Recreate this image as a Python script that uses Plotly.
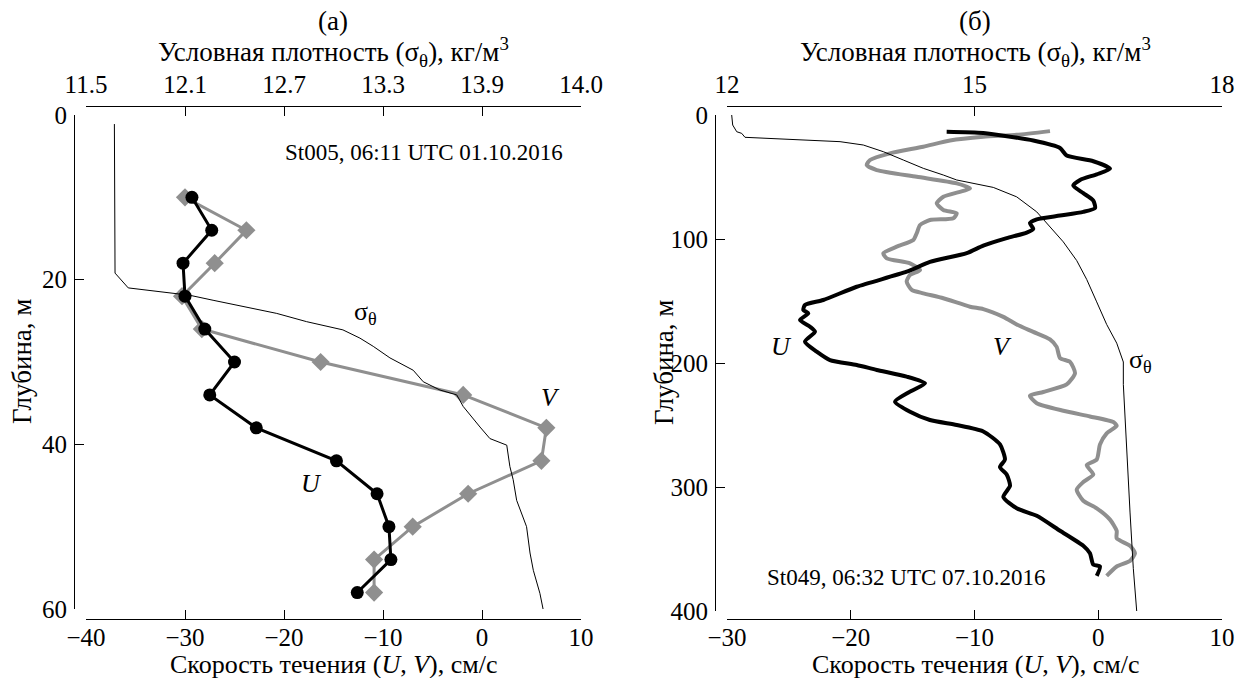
import plotly.graph_objects as go

W, H = 1235, 678

# ---------------- Panel (a) data ----------------
a_depth = [10, 14, 18, 22, 26, 30, 34, 38, 42, 46, 50, 54, 58]
a_U = [-29.3, -27.3, -30.2, -30.0, -28.0, -25.0, -27.5, -22.8, -14.7, -10.6, -9.4, -9.2, -12.6]
a_V = [-30.0, -23.8, -27.0, -30.3, -28.3, -16.3, -1.9, 6.5, 6.0, -1.4, -7.0, -10.9, -10.9]

a_sig_depth = [1.1, 19.2, 21.0, 21.6, 21.9, 22.5, 24.1, 25.1, 26.1, 27.1, 28.1, 29.5, 31.0,
               32.4, 33.4, 34.0, 35.4, 37.9, 39.3, 40.1, 42.7, 44.3, 46.8, 50.0, 53.2,
               55.3, 58.1, 60.1]
a_sig = [11.672, 11.676, 11.756, 12.019, 12.130, 12.270, 12.656, 12.837, 13.057, 13.160,
         13.241, 13.342, 13.483, 13.544, 13.645, 13.747, 13.786, 13.888, 13.948, 14.050,
         14.069, 14.089, 14.110, 14.170, 14.191, 14.211, 14.251, 14.271]

a_top_vals = [11.5, 12.1, 12.7, 13.3, 13.9, 14.5]
a_top_text = ["11.5", "12.1", "12.7", "13.3", "13.9", "14.0"]
a_bot_vals = [-40, -30, -20, -10, 0, 10]
a_y_vals = [0, 20, 40, 60]

# ---------------- Panel (б) data ----------------
b_U_depth = [13.5, 14.5, 20.6, 26.6, 32.7, 37.3, 43.3, 47.8, 52.4, 56.9, 63.0, 69.0, 75.1,
             78.1, 81.1, 84.1, 87.2, 91.7, 94.8, 99.3, 105.3, 111.4, 118.5, 126.4, 138.5,
             149.2, 153.2, 157.3, 159.9, 165.3, 170.7, 174.8, 182.8, 190.9, 197.6, 201.6,
             205.6, 211.0, 216.4, 223.1, 231.2, 239.3, 246.0, 250.0, 255.2, 265.7, 277.8,
             283.9, 289.9, 299.0, 308.1, 317.2, 323.2, 335.3, 347.4, 353.5, 362.6, 364.1,
             371.7]
b_U = [-12.25, -9.29, -5.25, -3.09, -2.55, -0.40, 0.95, -0.12, -1.47, -2.02, -1.21, -0.40,
       -0.26, -1.21, -3.09, -4.97, -5.52, -5.25, -5.78, -7.40, -9.29, -10.63, -13.6, -15.48,
       -19.52, -22.22, -23.70, -23.83, -23.43, -24.10, -23.29, -22.89, -23.70, -22.75,
       -21.68, -19.52, -17.90, -15.48, -14.0, -15.21, -16.42, -15.21, -13.60, -11.44, -9.29,
       -7.94, -7.54, -7.94, -7.40, -7.13, -7.67, -6.59, -4.97, -3.09, -1.21, -0.67, -0.40,
       0.14, -0.12]

b_V_depth = [13.0, 16.0, 17.6, 20.6, 25.6, 30.9, 36.3, 40.3, 44.4, 49.8, 55.1, 59.1, 65.9,
             71.2, 76.6, 79.3, 83.3, 84.7, 88.7, 95.4, 100.8, 106.2, 111.5, 115.6, 119.6,
             125.0, 129.0, 134.4, 141.1, 143.8, 147.8, 154.6, 156.5, 162.8, 168.9, 174.9,
             181.0, 187.0, 196.0, 199.1, 208.2, 217.3, 223.4, 226.4, 232.4, 238.5, 243.1,
             247.6, 250.6, 256.7, 265.7, 277.8, 282.4, 289.9, 296.0, 302.1, 311.1, 317.2,
             326.3, 335.3, 341.4, 347.4, 353.5, 359.6, 364.1, 371.7]
b_V = [-3.90, -6.59, -9.29, -11.98, -14.14, -16.83, -18.44, -18.71, -17.90, -14.67, -11.44,
       -10.36, -12.52, -13.05, -12.52, -11.44, -11.71, -13.60, -14.40, -14.67, -14.94,
       -16.29, -17.37, -17.09, -15.21, -14.40, -15.21, -15.48, -15.07, -14.14, -12.52,
       -10.36, -9.29, -7.67, -6.59, -5.25, -3.90, -3.36, -3.09, -2.28, -1.88, -2.55, -4.44,
       -5.52, -4.97, -2.82, -0.67, 1.22, 1.49, 0.68, 0.14, -0.12, -0.93, -0.40, -1.21,
       -1.74, -1.21, -0.12, 0.95, 1.49, 1.49, 2.57, 2.97, 2.57, 1.49, 0.68]

b_sig_depth = [0, 8.1, 13.5, 14.8, 18.0, 19.6, 21.5, 24.2, 29.6, 36.3, 43.0, 48.4, 52.4,
               58.4, 66.0, 78.1, 90.2, 102.3, 117.4, 132.6, 150.7, 168.9, 184.0, 199.2,
               217.3, 244.6, 274.8, 320.2, 365.6, 400.0]
b_sig = [12.057, 12.069, 12.118, 12.178, 12.218, 12.764, 13.370, 13.652, 13.895, 14.137,
         14.379, 14.622, 14.784, 15.228, 15.511, 15.754, 15.915, 16.076, 16.239, 16.360,
         16.481, 16.602, 16.724, 16.804, 16.804, 16.824, 16.845, 16.885, 16.925, 16.966]

b_top_vals = [12, 15, 18]
b_bot_vals = [-30, -20, -10, 0, 10]
b_y_vals = [0, 100, 200, 300, 400]

# ---------------- styling ----------------
FONT = "Liberation Serif"
FS_TICK = 25
FS_TITLE = 27
FS_XTITLE = 26
FS_NOTE = 23
FS_CURVE = 26
GRAY = "#8f8f8f"


def px(x):
    return x / W


def py(y):
    return 1 - y / H


fig = go.Figure()

# panel (a)
fig.add_trace(go.Scatter(x=a_sig, y=a_sig_depth, xaxis="x2", yaxis="y", mode="lines",
                         line=dict(color="black", width=1), showlegend=False, hoverinfo="skip"))
fig.add_trace(go.Scatter(x=a_V, y=a_depth, xaxis="x", yaxis="y", mode="lines+markers",
                         line=dict(color=GRAY, width=3),
                         marker=dict(symbol="diamond", size=14, color=GRAY), showlegend=False))
fig.add_trace(go.Scatter(x=a_U, y=a_depth, xaxis="x", yaxis="y", mode="lines+markers",
                         line=dict(color="black", width=3),
                         marker=dict(symbol="circle", size=13, color="black"), showlegend=False))

# panel (б)
fig.add_trace(go.Scatter(x=b_sig, y=b_sig_depth, xaxis="x4", yaxis="y2", mode="lines",
                         line=dict(color="black", width=1), showlegend=False, hoverinfo="skip"))
fig.add_trace(go.Scatter(x=b_V, y=b_V_depth, xaxis="x3", yaxis="y2", mode="lines",
                         line=dict(color=GRAY, width=4, shape="spline", smoothing=0.6),
                         showlegend=False))
fig.add_trace(go.Scatter(x=b_U, y=b_U_depth, xaxis="x3", yaxis="y2", mode="lines",
                         line=dict(color="black", width=4, shape="spline", smoothing=0.6),
                         showlegend=False))

tickfont = dict(family=FONT, size=FS_TICK, color="black")
common_x = dict(showgrid=False, zeroline=False, showline=True, linecolor="black", linewidth=1,
                ticks="inside", ticklen=9, tickcolor="black", tickwidth=1, tickfont=tickfont,
                automargin=False)

a_dom = [px(86), px(581)]
b_dom = [px(727), px(1222)]
y_dom = [py(609), py(115)]
y2_dom = [py(611), py(115)]

fig.update_layout(
    width=W, height=H,
    margin=dict(l=0, r=0, t=0, b=0, autoexpand=False),
    paper_bgcolor="white", plot_bgcolor="white",
    font=dict(family=FONT, size=FS_TICK, color="black"),
    xaxis=dict(common_x, domain=a_dom, range=[-40, 10], anchor="free", position=py(619),
               side="bottom", tickmode="array", tickvals=a_bot_vals, ticklabelstandoff=-4),
    xaxis2=dict(common_x, domain=a_dom, range=[11.5, 14.5], anchor="free", position=py(106),
                side="top", overlaying="x", tickmode="array", tickvals=a_top_vals,
                ticktext=a_top_text, ticklabelstandoff=3),
    yaxis=dict(common_x, domain=y_dom, range=[60, 0], anchor="free", position=px(74),
               side="left", tickmode="array", tickvals=a_y_vals, ticklabelstandoff=2),
    xaxis3=dict(common_x, domain=b_dom, range=[-30, 10], anchor="free", position=py(619),
                side="bottom", tickmode="array", tickvals=b_bot_vals, ticklabelstandoff=-4),
    xaxis4=dict(common_x, domain=b_dom, range=[12, 18], anchor="free", position=py(106),
                side="top", overlaying="x3", tickmode="array", tickvals=b_top_vals,
                ticklabelstandoff=3),
    yaxis2=dict(common_x, domain=y2_dom, range=[400, 0], anchor="free", position=px(715),
                side="left", tickmode="array", tickvals=b_y_vals, ticklabelstandoff=2),
)

ann = []


def label(text, x, y, size=FS_TITLE, xref="paper", yref="paper", angle=0):
    ann.append(dict(text=text, x=x, y=y, xref=xref, yref=yref, showarrow=False,
                    font=dict(family=FONT, size=size, color="black"),
                    xanchor="center", yanchor="middle", textangle=angle))


# titles (paper coordinates from pixel positions)
label("(а)", px(333), py(21))
label("Условная плотность (σ<sub>θ</sub>), кг/м<sup>3</sup>", px(333), py(52))
label("(б)", px(975), py(21))
label("Условная плотность (σ<sub>θ</sub>), кг/м<sup>3</sup>", px(975), py(52))
label("Скорость течения (<i>U</i>, <i>V</i>), см/с", px(333), py(664.5), size=FS_XTITLE)
label("Скорость течения (<i>U</i>, <i>V</i>), см/с", px(975), py(664.5), size=FS_XTITLE)
label("Глубина, м", px(22), py(362), angle=-90)
label("Глубина, м", px(664), py(363), angle=-90)
label("St005, 06:11 UTC 01.10.2016", px(424), py(152), size=FS_NOTE)
label("St049, 06:32 UTC 07.10.2016", px(906), py(577), size=FS_NOTE)

# curve labels (data coordinates)
label("σ<sub>θ</sub>", -11.8, 24.0, size=FS_CURVE, xref="x", yref="y")
label("<i>V</i>", 6.9, 34.3, size=FS_CURVE, xref="x", yref="y")
label("<i>U</i>", -17.2, 44.7, size=FS_CURVE, xref="x", yref="y")
label("<i>U</i>", -25.6, 187, size=FS_CURVE, xref="x3", yref="y2")
label("<i>V</i>", -7.7, 187, size=FS_CURVE, xref="x3", yref="y2")
label("σ<sub>θ</sub>", 3.4, 198, size=FS_CURVE, xref="x3", yref="y2")

fig.update_layout(annotations=ann)

fig.write_html("out.html", config={"displayModeBar": False, "staticPlot": True},
               post_script="document.body.style.margin='0px';")
